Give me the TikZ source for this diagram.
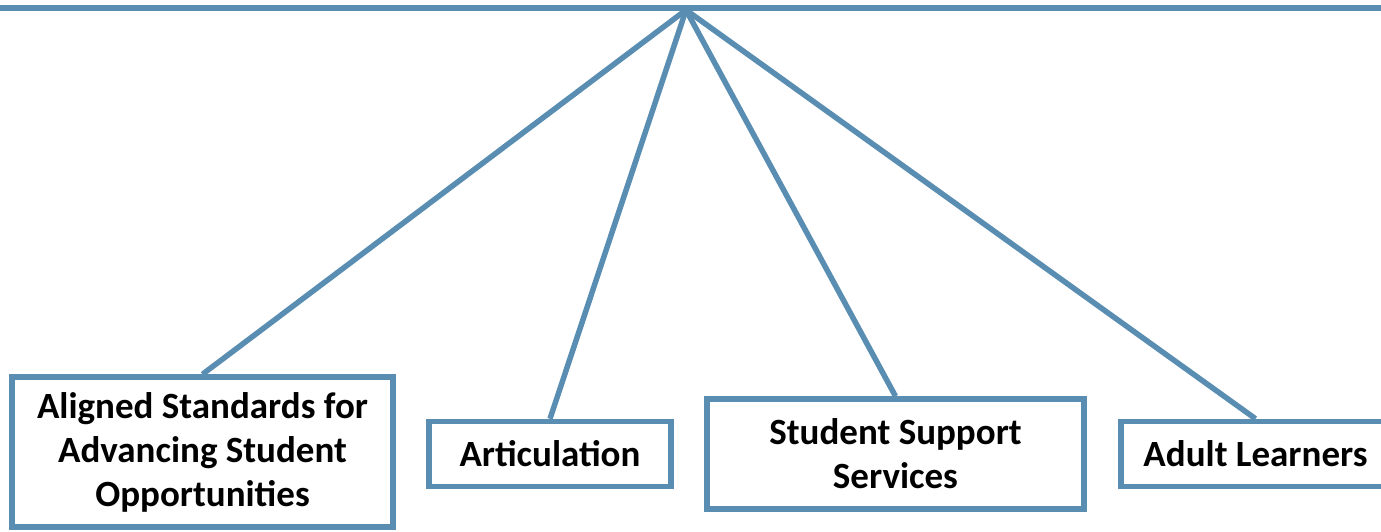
\documentclass[tikz,border=0pt]{standalone}
\usepackage{fontspec}
\setmainfont{Carlito}
\definecolor{linkblue}{RGB}{89,141,178}
\tikzset{
  topicbox/.style={draw=linkblue, line width=5.5pt, fill=white, align=center, inner sep=0pt,
    font=\fontsize{37}{44}\selectfont\bfseries},
  link/.style={draw=linkblue, line width=5.5pt}
}

\begin{document}
\begin{tikzpicture}[x=1pt,y=-1pt]
\useasboundingbox (0,0) rectangle (1381,531); %page size of the picture
\coordinate (apex) at (686,10); %point where all links meet
\draw[link] (0,8) -- (1381,8); %the top bar
\node[topicbox, minimum width=381pt, minimum height=150pt] (aligned) at (202.5,452) {Aligned Standards for\\Advancing Student\\Opportunities};
\node[topicbox, minimum width=242pt, minimum height=65pt] (artic) at (550,454) {Articulation};
\node[topicbox, minimum width=377pt, minimum height=110pt] (support) at (895.5,454) {Student Support\\Services};
\node[topicbox, minimum width=269pt, minimum height=65pt] (adult) at (1255.5,454) {Adult Learners};
\draw[link] (apex) -- (aligned.north); %link to first box
\draw[link] (apex) -- (artic.north); %link to second box
\draw[link] (apex) -- (support.north); %link to third box
\draw[link] (apex) -- (adult.north); %link to fourth box
\end{tikzpicture}
\end{document}
